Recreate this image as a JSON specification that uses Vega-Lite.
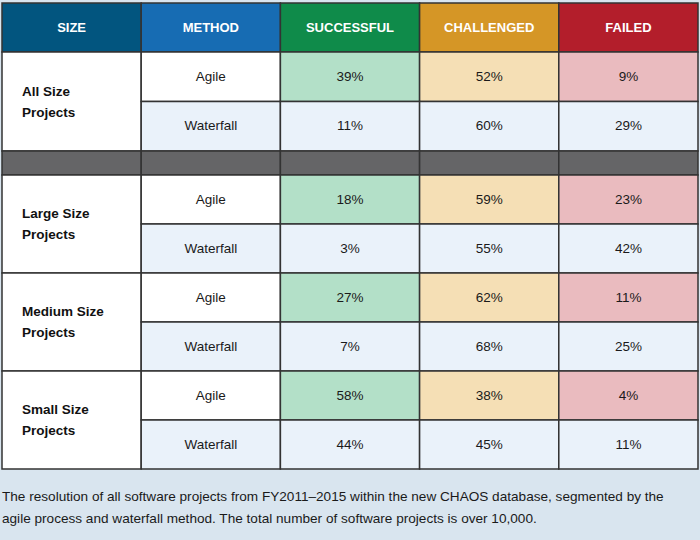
{
  "$schema": "https://vega.github.io/schema/vega-lite/v6.json",
  "background": "#d9e5ef",
  "padding": {"top": 2, "left": 1, "right": 3, "bottom": 16},
  "bounds": "flush",
  "config": {"view": {"stroke": null}, "font": "Liberation Sans", "text": {"fontSize": 13.5, "color": "#1a1a1a"}},
  "datasets": {
    "cols": [{"col": "SIZE"}, {"col": "METHOD"}, {"col": "SUCCESSFUL"}, {"col": "CHALLENGED"}, {"col": "FAILED"}],
    "cells": [
      {"size": "All Size Projects", "method": "Agile", "SUCCESSFUL": 39, "CHALLENGED": 52, "FAILED": 9},
      {"size": "All Size Projects", "method": "Waterfall", "SUCCESSFUL": 11, "CHALLENGED": 60, "FAILED": 29},
      {"size": "Large Size Projects", "method": "Agile", "SUCCESSFUL": 18, "CHALLENGED": 59, "FAILED": 23},
      {"size": "Large Size Projects", "method": "Waterfall", "SUCCESSFUL": 3, "CHALLENGED": 55, "FAILED": 42},
      {"size": "Medium Size Projects", "method": "Agile", "SUCCESSFUL": 27, "CHALLENGED": 62, "FAILED": 11},
      {"size": "Medium Size Projects", "method": "Waterfall", "SUCCESSFUL": 7, "CHALLENGED": 68, "FAILED": 25},
      {"size": "Small Size Projects", "method": "Agile", "SUCCESSFUL": 58, "CHALLENGED": 38, "FAILED": 4},
      {"size": "Small Size Projects", "method": "Waterfall", "SUCCESSFUL": 44, "CHALLENGED": 45, "FAILED": 11}
    ]
  },
  "title": {
    "text": ["The resolution of all software projects from FY2011–2015 within the new CHAOS database, segmented by the", "agile process and waterfall method. The total number of software projects is over 10,000."],
    "orient": "bottom", "anchor": "start", "frame": "group", "fontSize": 13.6, "fontWeight": "normal", "color": "#1a1a1a", "lineHeight": 22, "offset": 20, "font": "Liberation Sans"
  },
  "resolve": {"scale": {"fill": "independent", "x": "independent", "y": "independent"}},
  "spacing": 0,
  "vconcat": [
    {
      "width": 696, "height": 49,
      "data": {"name": "cols"},
      "layer": [
        {"mark": {"type": "rect", "stroke": "#333333", "strokeWidth": 1.5},
         "encoding": {
           "x": {"field": "col", "type": "nominal", "scale": {"domain": ["SIZE", "METHOD", "SUCCESSFUL", "CHALLENGED", "FAILED"], "paddingInner": 0, "paddingOuter": 0}, "axis": null},
           "fill": {"field": "col", "type": "nominal", "scale": {"domain": ["SIZE", "METHOD", "SUCCESSFUL", "CHALLENGED", "FAILED"], "range": ["#02557f", "#176cb3", "#0f8b4a", "#d59626", "#b31e2b"]}, "legend": null}
         }},
        {"mark": {"type": "text", "color": "#ffffff", "fontWeight": "bold", "fontSize": 13},
         "encoding": {
           "x": {"field": "col", "type": "nominal", "scale": {"domain": ["SIZE", "METHOD", "SUCCESSFUL", "CHALLENGED", "FAILED"], "paddingInner": 0, "paddingOuter": 0}, "axis": null},
           "text": {"field": "col"}
         }}
      ]
    },
    {
      "width": 696, "height": 99,
      "data": {"name": "cells"},
      "transform": [{"filter": "datum.size === 'All Size Projects'"}],
      "layer": [
        {"transform": [{"filter": "datum.method === 'Agile'"}, {"calculate": "[replace(datum.size, ' Projects', ''), 'Projects']", "as": "sizeLines"}],
         "layer": [
           {"mark": {"type": "rect", "fill": "#ffffff", "stroke": "#333333", "strokeWidth": 1.5},
            "encoding": {"x": {"datum": "SIZE", "type": "nominal", "scale": {"domain": ["SIZE", "METHOD", "SUCCESSFUL", "CHALLENGED", "FAILED"], "paddingInner": 0, "paddingOuter": 0}, "axis": null}}},
           {"mark": {"type": "text", "align": "left", "dx": 20, "dy": -10, "fontWeight": "bold", "fontSize": 13.5, "lineHeight": 21, "baseline": "middle", "color": "#111111"},
            "encoding": {"x": {"datum": "SIZE", "type": "nominal", "bandPosition": 0, "scale": {"domain": ["SIZE", "METHOD", "SUCCESSFUL", "CHALLENGED", "FAILED"], "paddingInner": 0, "paddingOuter": 0}, "axis": null}, "text": {"field": "sizeLines"}}}
         ]},
        {"layer": [
           {"mark": {"type": "rect", "stroke": "#333333", "strokeWidth": 1.5},
            "encoding": {
              "x": {"datum": "METHOD", "type": "nominal", "scale": {"domain": ["SIZE", "METHOD", "SUCCESSFUL", "CHALLENGED", "FAILED"], "paddingInner": 0, "paddingOuter": 0}, "axis": null},
              "y": {"field": "method", "type": "nominal", "scale": {"domain": ["Agile", "Waterfall"], "paddingInner": 0, "paddingOuter": 0}, "axis": null},
              "fill": {"condition": {"test": "datum.method === 'Waterfall'", "value": "#eaf2fa"}, "value": "#ffffff"}
            }},
           {"mark": {"type": "text"},
            "encoding": {
              "x": {"datum": "METHOD", "type": "nominal", "scale": {"domain": ["SIZE", "METHOD", "SUCCESSFUL", "CHALLENGED", "FAILED"], "paddingInner": 0, "paddingOuter": 0}, "axis": null},
              "y": {"field": "method", "type": "nominal", "scale": {"domain": ["Agile", "Waterfall"], "paddingInner": 0, "paddingOuter": 0}, "axis": null},
              "text": {"field": "method"}
            }}
         ]},
        {"transform": [{"fold": ["SUCCESSFUL", "CHALLENGED", "FAILED"], "as": ["status", "pct"]}, {"calculate": "datum.pct + '%'", "as": "label"}],
         "layer": [
           {"mark": {"type": "rect", "stroke": "#333333", "strokeWidth": 1.5},
            "encoding": {
              "x": {"field": "status", "type": "nominal", "scale": {"domain": ["SIZE", "METHOD", "SUCCESSFUL", "CHALLENGED", "FAILED"], "paddingInner": 0, "paddingOuter": 0}, "axis": null},
              "y": {"field": "method", "type": "nominal", "scale": {"domain": ["Agile", "Waterfall"], "paddingInner": 0, "paddingOuter": 0}, "axis": null},
              "fill": {"condition": {"test": "datum.method === 'Waterfall'", "value": "#eaf2fa"}, "field": "status", "type": "nominal", "scale": {"domain": ["SUCCESSFUL", "CHALLENGED", "FAILED"], "range": ["#b3e0c8", "#f5dfb5", "#eabbbf"]}, "legend": null}
            }},
           {"mark": {"type": "text"},
            "encoding": {
              "x": {"field": "status", "type": "nominal", "scale": {"domain": ["SIZE", "METHOD", "SUCCESSFUL", "CHALLENGED", "FAILED"], "paddingInner": 0, "paddingOuter": 0}, "axis": null},
              "y": {"field": "method", "type": "nominal", "scale": {"domain": ["Agile", "Waterfall"], "paddingInner": 0, "paddingOuter": 0}, "axis": null},
              "text": {"field": "label"}
            }}
         ]}
      ]
    },
    {
      "width": 696, "height": 24,
      "data": {"name": "cols"},
      "mark": {"type": "rect", "fill": "#656567", "stroke": "#333333", "strokeWidth": 1.5},
      "encoding": {"x": {"field": "col", "type": "nominal", "scale": {"domain": ["SIZE", "METHOD", "SUCCESSFUL", "CHALLENGED", "FAILED"], "paddingInner": 0, "paddingOuter": 0}, "axis": null}}
    },
    {
      "data": {"name": "cells"},
      "transform": [{"filter": "datum.size !== 'All Size Projects'"}],
      "facet": {"row": {"field": "size", "type": "nominal", "sort": ["Large Size Projects", "Medium Size Projects", "Small Size Projects"], "header": null}},
      "spacing": 0,
      "bounds": "flush",
      "spec": {
        "width": 696, "height": 98,
        "layer": [
          {"transform": [{"filter": "datum.method === 'Agile'"}, {"calculate": "[replace(datum.size, ' Projects', ''), 'Projects']", "as": "sizeLines"}],
           "layer": [
             {"mark": {"type": "rect", "fill": "#ffffff", "stroke": "#333333", "strokeWidth": 1.5},
              "encoding": {"x": {"datum": "SIZE", "type": "nominal", "scale": {"domain": ["SIZE", "METHOD", "SUCCESSFUL", "CHALLENGED", "FAILED"], "paddingInner": 0, "paddingOuter": 0}, "axis": null}}},
             {"mark": {"type": "text", "align": "left", "dx": 20, "dy": -10, "fontWeight": "bold", "fontSize": 13.5, "lineHeight": 21, "baseline": "middle", "color": "#111111"},
              "encoding": {"x": {"datum": "SIZE", "type": "nominal", "bandPosition": 0, "scale": {"domain": ["SIZE", "METHOD", "SUCCESSFUL", "CHALLENGED", "FAILED"], "paddingInner": 0, "paddingOuter": 0}, "axis": null}, "text": {"field": "sizeLines"}}}
           ]},
          {"layer": [
             {"mark": {"type": "rect", "stroke": "#333333", "strokeWidth": 1.5},
              "encoding": {
                "x": {"datum": "METHOD", "type": "nominal", "scale": {"domain": ["SIZE", "METHOD", "SUCCESSFUL", "CHALLENGED", "FAILED"], "paddingInner": 0, "paddingOuter": 0}, "axis": null},
                "y": {"field": "method", "type": "nominal", "scale": {"domain": ["Agile", "Waterfall"], "paddingInner": 0, "paddingOuter": 0}, "axis": null},
                "fill": {"condition": {"test": "datum.method === 'Waterfall'", "value": "#eaf2fa"}, "value": "#ffffff"}
              }},
             {"mark": {"type": "text"},
              "encoding": {
                "x": {"datum": "METHOD", "type": "nominal", "scale": {"domain": ["SIZE", "METHOD", "SUCCESSFUL", "CHALLENGED", "FAILED"], "paddingInner": 0, "paddingOuter": 0}, "axis": null},
                "y": {"field": "method", "type": "nominal", "scale": {"domain": ["Agile", "Waterfall"], "paddingInner": 0, "paddingOuter": 0}, "axis": null},
                "text": {"field": "method"}
              }}
           ]},
          {"transform": [{"fold": ["SUCCESSFUL", "CHALLENGED", "FAILED"], "as": ["status", "pct"]}, {"calculate": "datum.pct + '%'", "as": "label"}],
           "layer": [
             {"mark": {"type": "rect", "stroke": "#333333", "strokeWidth": 1.5},
              "encoding": {
                "x": {"field": "status", "type": "nominal", "scale": {"domain": ["SIZE", "METHOD", "SUCCESSFUL", "CHALLENGED", "FAILED"], "paddingInner": 0, "paddingOuter": 0}, "axis": null},
                "y": {"field": "method", "type": "nominal", "scale": {"domain": ["Agile", "Waterfall"], "paddingInner": 0, "paddingOuter": 0}, "axis": null},
                "fill": {"condition": {"test": "datum.method === 'Waterfall'", "value": "#eaf2fa"}, "field": "status", "type": "nominal", "scale": {"domain": ["SUCCESSFUL", "CHALLENGED", "FAILED"], "range": ["#b3e0c8", "#f5dfb5", "#eabbbf"]}, "legend": null}
              }},
             {"mark": {"type": "text"},
              "encoding": {
                "x": {"field": "status", "type": "nominal", "scale": {"domain": ["SIZE", "METHOD", "SUCCESSFUL", "CHALLENGED", "FAILED"], "paddingInner": 0, "paddingOuter": 0}, "axis": null},
                "y": {"field": "method", "type": "nominal", "scale": {"domain": ["Agile", "Waterfall"], "paddingInner": 0, "paddingOuter": 0}, "axis": null},
                "text": {"field": "label"}
              }}
           ]}
        ]
      }
    }
  ]
}
